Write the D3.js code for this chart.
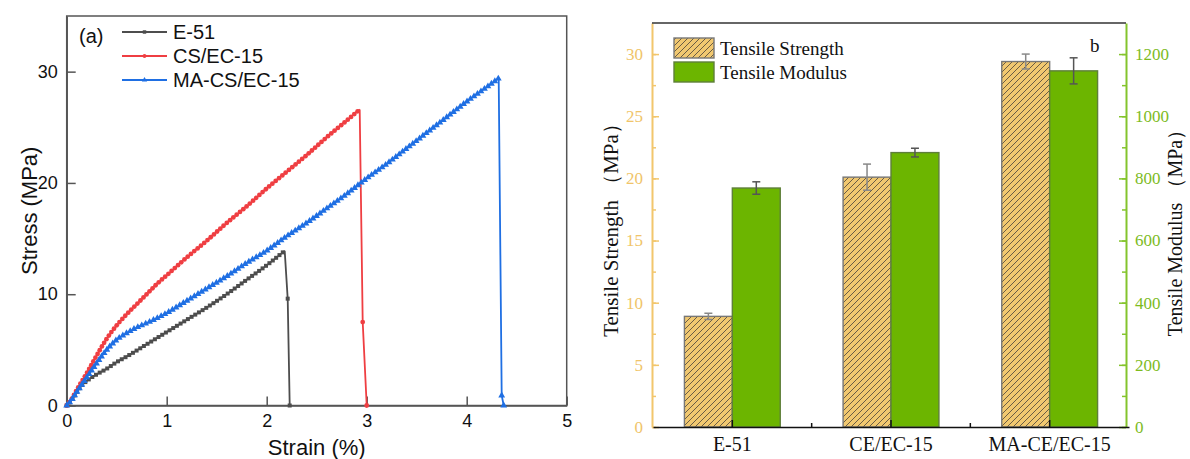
<!DOCTYPE html>
<html>
<head>
<meta charset="utf-8">
<script src="https://cdn.jsdelivr.net/npm/d3@7"></script>
<style>
body { margin: 0; background: #fff; }
svg { display: block; }
.left text { font-family: 'Liberation Sans', Arial, sans-serif; fill: #111; }
.right text { font-family: 'Liberation Serif', 'Times New Roman', serif; }
</style>
</head>
<body>
<svg id="chart" width="1190" height="459"></svg>
<script>
// (a) stress-strain curves: [strain %, stress MPa] up to the peak
var e51Curve = [[0, 0], [0.05, 0.5], [0.1, 1.2], [0.15, 1.8], [0.2, 2.2], [0.3, 2.8], [0.4, 3.3],
    [0.5, 3.9], [0.6, 4.4], [0.8, 5.5], [1.0, 6.6], [1.2, 7.7], [1.4, 8.8], [1.6, 10.0],
    [1.8, 11.3], [2.0, 12.6], [2.18, 13.9]];
var csCurve = [[0, 0], [0.05, 0.6], [0.1, 1.4], [0.2, 2.9], [0.3, 4.5], [0.4, 6.0], [0.5, 7.2],
    [0.6, 8.2], [0.7, 9.1], [0.8, 10.0], [0.9, 10.9], [1.0, 11.7], [1.2, 13.3], [1.4, 14.8],
    [1.6, 16.4], [1.8, 17.9], [2.0, 19.5], [2.2, 21.0], [2.4, 22.5], [2.6, 24.1], [2.8, 25.6],
    [2.93, 26.6]];
var maCurve = [[0, 0], [0.05, 0.5], [0.1, 1.2], [0.2, 2.5], [0.3, 3.8], [0.4, 5.0], [0.5, 5.9],
    [0.6, 6.5], [0.7, 7.0], [0.8, 7.4], [1.0, 8.3], [1.2, 9.4], [1.4, 10.5], [1.6, 11.6],
    [1.8, 12.8], [2.0, 13.9], [2.2, 15.2], [2.4, 16.4], [2.6, 17.7], [2.8, 19.0], [3.0, 20.4],
    [3.2, 21.7], [3.4, 23.1], [3.6, 24.5], [3.8, 25.9], [4.0, 27.3], [4.2, 28.6], [4.32, 29.4]];
// points after fracture
var e51Break = [[2.21, 9.6], [2.23, 0]];
var csBreak = [[2.96, 7.5], [3.0, 0]];
var maBreak = [[4.35, 0.9], [4.37, 0]];
var curveNames = ['E-51', 'CS/EC-15', 'MA-CS/EC-15'];
var strainTicks = [0, 1, 2, 3, 4, 5];
var stressTicks = [0, 10, 20, 30];

// (b) bar values
var samples = ['E-51', 'CE/EC-15', 'MA-CE/EC-15'];
var strength = [8.9, 20.1, 29.4];
var strengthErr = [0.25, 1.05, 0.6];
var modulus = [769, 883, 1146];
var modulusErr = [20, 14, 42];
var strengthTicks = [0, 5, 10, 15, 20, 25, 30];
var modulusTicks = [0, 200, 400, 600, 800, 1000, 1200];

var svg = d3.select('#chart');

//---------------- left panel ----------------
var left = svg.append('g').attr('class', 'left');
var x = d3.scaleLinear().domain([0, 5]).range([66.7, 566.7]);
var y = d3.scaleLinear().domain([0, 35]).range([405.5, 16]);
var axisColor = '#555';

left.append('g')
    .attr('transform', 'translate(0,' + y(0) + ')')
    .call(d3.axisBottom(x).tickValues(strainTicks).tickFormat(d3.format('d'))
        .tickSize(-9).tickSizeOuter(0).tickPadding(9))
    .call(function (g) {
        g.selectAll('text').style('font-size', '18px');
        g.selectAll('line,path').attr('stroke', axisColor).attr('stroke-width', 1.5);
    });

left.append('g')
    .attr('transform', 'translate(' + x(0) + ',0)')
    .call(d3.axisLeft(y).tickValues(stressTicks).tickFormat(d3.format('d'))
        .tickSize(-9).tickSizeOuter(0).tickPadding(9))
    .call(function (g) {
        g.selectAll('text').style('font-size', '18px');
        g.selectAll('line,path').attr('stroke', axisColor).attr('stroke-width', 1.5);
    });

// frame
left.append('rect')
    .attr('x', x(0)).attr('y', y(35))
    .attr('width', x(5) - x(0)).attr('height', y(0) - y(35))
    .attr('fill', 'none').attr('stroke', axisColor).attr('stroke-width', 1.5);

left.append('text')
    .attr('transform', 'translate(37,' + ((y(0) + y(35)) / 2) + ') rotate(-90)')
    .attr('text-anchor', 'middle')
    .style('font-size', '22px')
    .text('Stress (MPa)');

left.append('text')
    .attr('x', (x(0) + x(5)) / 2).attr('y', 455)
    .attr('text-anchor', 'middle')
    .style('font-size', '22px')
    .text('Strain (%)');

var series = [
    { name: curveNames[0], pts: e51Curve, brk: e51Break, color: '#4d4d4d', shape: d3.symbolSquare, size: 16 },
    { name: curveNames[1], pts: csCurve, brk: csBreak, color: '#ef3e42', shape: d3.symbolCircle, size: 18 },
    { name: curveNames[2], pts: maCurve, brk: maBreak, color: '#1f6fe3', shape: d3.symbolTriangle, size: 20 }
];

var line = d3.line()
    .x(function (d) { return x(d[0]); })
    .y(function (d) { return y(d[1]); })
    .curve(d3.curveMonotoneX);

var lineStraight = d3.line()
    .x(function (d) { return x(d[0]); })
    .y(function (d) { return y(d[1]); });

series.forEach(function (s) {
    var g = left.append('g');
    var main = g.append('path')
        .attr('d', line(s.pts))
        .attr('fill', 'none')
        .attr('stroke', s.color)
        .attr('stroke-width', 1.6);
    g.append('path')
        .attr('d', lineStraight([s.pts[s.pts.length - 1]].concat(s.brk)))
        .attr('fill', 'none')
        .attr('stroke', s.color)
        .attr('stroke-width', 1.8);

    // dense markers along the loading part (drawing style only)
    var node = main.node();
    var len = node.getTotalLength();
    var marks = [];
    for (var l = 0; l <= len; l += 4.3) {
        var p = node.getPointAtLength(l);
        marks.push([p.x, p.y]);
    }
    s.brk.forEach(function (d) { marks.push([x(d[0]), y(d[1])]); });

    g.selectAll('.mk')
        .data(marks)
        .enter().append('path')
        .attr('class', 'mk')
        .attr('transform', function (d) { return 'translate(' + d[0] + ',' + d[1] + ')'; })
        .attr('d', d3.symbol().type(s.shape).size(s.size))
        .attr('fill', s.color);
});

// legend
left.append('text')
    .attr('x', 79).attr('y', 43)
    .style('font-size', '20px')
    .text('(a)');

series.forEach(function (s, i) {
    var ly = 32 + i * 24;
    left.append('line')
        .attr('x1', 122).attr('x2', 167)
        .attr('y1', ly).attr('y2', ly)
        .attr('stroke', s.color).attr('stroke-width', 2);
    left.append('path')
        .attr('transform', 'translate(144.5,' + ly + ')')
        .attr('d', d3.symbol().type(s.shape).size(12))
        .attr('fill', s.color);
    left.append('text')
        .attr('x', 173).attr('y', ly + 7)
        .style('font-size', '20px')
        .text(s.name);
});

//---------------- right panel ----------------
var right = svg.append('g').attr('class', 'right');
var tan = '#f2c66c', tanText = '#f0c469';
var green = '#6cb500', greenAxis = '#84c42c', greenText = '#7dbb1e';

var xb = d3.scaleBand().domain(samples).range([653, 1129]);
var yL = d3.scaleLinear().domain([0, 32.5]).range([427, 23]);
var yR = d3.scaleLinear().domain([0, 1300]).range([427, 23]);
var barW = xb.bandwidth() * 0.302;

// hatch pattern
var defs = svg.append('defs');
defs.append('pattern')
    .attr('id', 'hatch')
    .attr('patternUnits', 'userSpaceOnUse')
    .attr('width', 6).attr('height', 6)
    .call(function (p) {
        p.append('rect').attr('width', 6).attr('height', 6).attr('fill', '#f1c870');
        p.append('path')
            .attr('d', 'M-1,1 l2,-2 M0,6 l6,-6 M5,7 l2,-2')
            .attr('stroke', '#5a5040').attr('stroke-width', 0.9);
    });

// bars
right.selectAll('.sbar')
    .data(samples)
    .enter().append('rect')
    .attr('class', 'sbar')
    .attr('x', function (d) { return xb(d) + xb.bandwidth() / 2 - barW; })
    .attr('y', function (d, i) { return yL(strength[i]); })
    .attr('width', barW)
    .attr('height', function (d, i) { return yL(0) - yL(strength[i]); })
    .attr('fill', 'url(#hatch)')
    .attr('stroke', '#777').attr('stroke-width', 1.4);

right.selectAll('.mbar')
    .data(samples)
    .enter().append('rect')
    .attr('class', 'mbar')
    .attr('x', function (d) { return xb(d) + xb.bandwidth() / 2; })
    .attr('y', function (d, i) { return yR(modulus[i]); })
    .attr('width', barW)
    .attr('height', function (d, i) { return yR(0) - yR(modulus[i]); })
    .attr('fill', green)
    .attr('stroke', '#5e7f3a').attr('stroke-width', 1.4);

// error bars
function errBar(cx, yTop, yBot, color) {
    var g = right.append('g').attr('stroke', color).attr('stroke-width', 1.5);
    g.append('line').attr('x1', cx).attr('x2', cx).attr('y1', yTop).attr('y2', yBot);
    g.append('line').attr('x1', cx - 4).attr('x2', cx + 4).attr('y1', yTop).attr('y2', yTop);
    g.append('line').attr('x1', cx - 4).attr('x2', cx + 4).attr('y1', yBot).attr('y2', yBot);
}
samples.forEach(function (d, i) {
    var c = xb(d) + xb.bandwidth() / 2;
    errBar(c - barW / 2, yL(strength[i] + strengthErr[i]), yL(strength[i] - strengthErr[i]), '#888');
    errBar(c + barW / 2, yR(modulus[i] + modulusErr[i]), yR(modulus[i] - modulusErr[i]), '#555');
});

// left axis (tensile strength)
right.append('g')
    .attr('transform', 'translate(652,0)')
    .call(d3.axisLeft(yL).tickValues(d3.range(0, 32.5, 2.5)).tickSize(-4).tickSizeOuter(0).tickFormat(''))
    .call(function (g) { g.selectAll('line').attr('stroke', tan).attr('stroke-width', 1.5); g.select('.domain').remove(); });
right.append('g')
    .attr('transform', 'translate(652,0)')
    .call(d3.axisLeft(yL).tickValues(strengthTicks).tickFormat(d3.format('d'))
        .tickSize(-7).tickSizeOuter(0).tickPadding(9))
    .call(function (g) {
        g.select('.domain').attr('stroke', tan).attr('stroke-width', 2);
        g.selectAll('line').attr('stroke', tan).attr('stroke-width', 1.5);
        g.selectAll('text').attr('fill', tanText).style('font-size', '17px')
            .style('font-family', "'Liberation Serif', serif");
    });

// right axis (tensile modulus)
right.append('g')
    .attr('transform', 'translate(1126,0)')
    .call(d3.axisRight(yR).tickValues(d3.range(0, 1300, 100)).tickSize(-4).tickSizeOuter(0).tickFormat(''))
    .call(function (g) { g.selectAll('line').attr('stroke', greenAxis).attr('stroke-width', 1.5); g.select('.domain').remove(); });
right.append('g')
    .attr('transform', 'translate(1126,0)')
    .call(d3.axisRight(yR).tickValues(modulusTicks).tickFormat(d3.format('d'))
        .tickSize(-7).tickSizeOuter(0).tickPadding(9))
    .call(function (g) {
        g.select('.domain').attr('stroke', greenAxis).attr('stroke-width', 2);
        g.selectAll('line').attr('stroke', greenAxis).attr('stroke-width', 1.5);
        g.selectAll('text').attr('fill', greenText).style('font-size', '17px')
            .style('font-family', "'Liberation Serif', serif");
    });

// top border
right.append('line')
    .attr('x1', 652).attr('x2', 1126).attr('y1', 23).attr('y2', 23)
    .attr('stroke', '#333').attr('stroke-width', 1.5);

// bottom axis
var xAxisB = right.append('g')
    .attr('transform', 'translate(0,427)')
    .call(d3.axisBottom(xb).tickSize(-7).tickSizeOuter(0).tickPadding(10))
    .call(function (g) {
        g.select('.domain').attr('stroke', '#111').attr('stroke-width', 1.5);
        g.selectAll('line').attr('stroke', '#111').attr('stroke-width', 1.5);
        g.selectAll('text').attr('fill', '#111').style('font-size', '20px')
            .style('font-family', "'Liberation Serif', serif");
    });
// minor ticks between groups
xAxisB.selectAll('.minor')
    .data(samples.slice(1))
    .enter().append('line')
    .attr('x1', function (d) { return xb(d); })
    .attr('x2', function (d) { return xb(d); })
    .attr('y1', 0).attr('y2', -4)
    .attr('stroke', '#111').attr('stroke-width', 1.5);

// axis titles
right.append('text')
    .attr('transform', 'translate(618,225) rotate(-90)')
    .attr('text-anchor', 'middle')
    .attr('fill', '#111')
    .style('font-size', '21px')
    .text('Tensile Strength （MPa）');

right.append('text')
    .attr('transform', 'translate(1182,228) rotate(-90)')
    .attr('text-anchor', 'middle')
    .attr('fill', '#111')
    .style('font-size', '20px')
    .text('Tensile Modulus （MPa）');

right.append('text')
    .attr('x', 1090).attr('y', 52)
    .attr('fill', '#111')
    .style('font-size', '19px')
    .text('b');

// legend
right.append('rect')
    .attr('x', 674).attr('y', 38).attr('width', 40).attr('height', 20)
    .attr('fill', 'url(#hatch)').attr('stroke', '#777').attr('stroke-width', 1.4);
right.append('rect')
    .attr('x', 674).attr('y', 62).attr('width', 40).attr('height', 20)
    .attr('fill', green).attr('stroke', '#5e7f3a').attr('stroke-width', 1.4);
right.append('text')
    .attr('x', 720).attr('y', 55).attr('fill', '#111')
    .style('font-size', '19px').text('Tensile Strength');
right.append('text')
    .attr('x', 720).attr('y', 79).attr('fill', '#111')
    .style('font-size', '19px').text('Tensile Modulus');
</script>
</body>
</html>
